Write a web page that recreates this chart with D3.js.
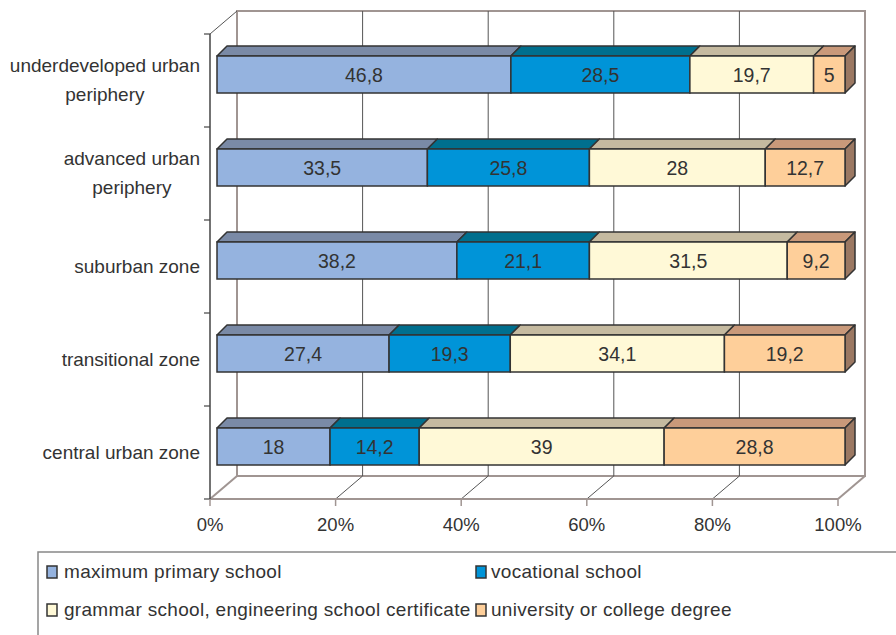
<!DOCTYPE html>
<html>
<head>
<meta charset="utf-8">
<script src="https://cdnjs.cloudflare.com/ajax/libs/d3/7.8.5/d3.min.js"></script>
<style>
  body { margin: 0; background: #fff; }
  text { font-family: "Liberation Sans", Arial, sans-serif; fill: #333; }
</style>
</head>
<body>
<script>
// Chart data
var categories = [
  ["underdeveloped urban", "periphery"],
  ["advanced urban", "periphery"],
  ["suburban zone"],
  ["transitional zone"],
  ["central urban zone"]
];
var seriesNames = [
  "maximum primary school",
  "vocational school",
  "grammar school, engineering school certificate",
  "university or college degree"
];
var primaryValues = [46.8, 33.5, 38.2, 27.4, 18];
var vocationalValues = [28.5, 25.8, 21.1, 19.3, 14.2];
var grammarValues = [19.7, 28, 31.5, 34.1, 39];
var universityValues = [5, 12.7, 9.2, 19.2, 28.8];
var tickValues = [0, 20, 40, 60, 80, 100];

// Colors: front face, top face, side face
var colors = [
  { front: "#95b3df", top: "#7a8aa6", side: "#5f7290" },
  { front: "#0094d8", top: "#006f8e", side: "#005a74" },
  { front: "#fff9d7", top: "#c5baa0", side: "#a89e86" },
  { front: "#fecf9a", top: "#c9997a", side: "#9b7862" }
];

var svgWidth = 896;
var svgHeight = 635;

// Front plane of the plot and the depth of the 3D box
var plot = { left: 210, top: 34, bottom: 499, width: 628 };
var depth = { dx: 27, dy: -23 };
// Bar front face offset from front plane, and bar depth
var barOff = { dx: 7, dy: -6 };
var barDepth = { dx: 10, dy: -10 };

var svg = d3.select("body")
  .append("svg")
  .attr("width", svgWidth)
  .attr("height", svgHeight);

var xScale = d3.scaleLinear()
  .domain([0, 100])
  .range([0, plot.width]);

var yBand = d3.scaleBand()
  .domain(d3.range(categories.length))
  .range([plot.top, plot.bottom]);

var barHeight = 37;

// Back wall
var backLeft = plot.left + depth.dx;
var backTop = plot.top + depth.dy;
var backBottom = plot.bottom + depth.dy;

svg.append("rect")
  .attr("x", backLeft)
  .attr("y", backTop)
  .attr("width", xScale(100))
  .attr("height", backBottom - backTop)
  .attr("fill", "#fff")
  .attr("stroke", "#a09592")
  .attr("stroke-width", 2);

// Vertical gridlines on back wall
svg.selectAll(".grid")
  .data(tickValues.slice(1, -1))
  .enter()
  .append("line")
  .attr("x1", d => backLeft + xScale(d))
  .attr("x2", d => backLeft + xScale(d))
  .attr("y1", backTop)
  .attr("y2", backBottom)
  .attr("stroke", "#555")
  .attr("stroke-width", 1);

// Floor gridlines
svg.selectAll(".floorgrid")
  .data(tickValues)
  .enter()
  .append("line")
  .attr("x1", d => plot.left + xScale(d))
  .attr("y1", plot.bottom)
  .attr("x2", d => backLeft + xScale(d))
  .attr("y2", backBottom)
  .attr("stroke", d => d === 0 || d === 100 ? "#a09592" : "#555")
  .attr("stroke-width", d => d === 0 || d === 100 ? 2 : 1);

// Floor front edge
svg.append("line")
  .attr("x1", plot.left)
  .attr("x2", plot.left + xScale(100))
  .attr("y1", plot.bottom)
  .attr("y2", plot.bottom)
  .attr("stroke", "#a09592")
  .attr("stroke-width", 2);

// Left wall top edge
svg.append("line")
  .attr("x1", plot.left)
  .attr("y1", plot.top)
  .attr("x2", backLeft)
  .attr("y2", backTop)
  .attr("stroke", "#555")
  .attr("stroke-width", 1);

// Left axis line and ticks
svg.append("line")
  .attr("x1", plot.left)
  .attr("x2", plot.left)
  .attr("y1", plot.top)
  .attr("y2", plot.bottom)
  .attr("stroke", "#444")
  .attr("stroke-width", 1.5);

svg.selectAll(".ytick")
  .data(d3.range(categories.length + 1))
  .enter()
  .append("line")
  .attr("x1", plot.left - 6)
  .attr("x2", plot.left)
  .attr("y1", d => plot.top + d * yBand.step())
  .attr("y2", d => plot.top + d * yBand.step())
  .attr("stroke", "#444")
  .attr("stroke-width", 1.2);

// Bottom axis ticks and labels
svg.selectAll(".xtick")
  .data(tickValues)
  .enter()
  .append("line")
  .attr("x1", d => plot.left + xScale(d))
  .attr("x2", d => plot.left + xScale(d))
  .attr("y1", plot.bottom)
  .attr("y2", plot.bottom + 7)
  .attr("stroke", "#a09592")
  .attr("stroke-width", 1.5);

svg.selectAll(".xlabel")
  .data(tickValues)
  .enter()
  .append("text")
  .attr("x", d => plot.left + xScale(d))
  .attr("y", plot.bottom + 32)
  .attr("text-anchor", "middle")
  .style("font-size", "18.5px")
  .text(d => d + "%");

// Category labels, centred as a block with right edge at 200
var labelRight = 200;
categories.forEach(function(lines, i) {
  var cy = yBand(i) + yBand.bandwidth() / 2;
  var g = svg.append("g");
  var texts = g.selectAll("text")
    .data(lines)
    .enter()
    .append("text")
    .attr("y", (d, j) => cy + (j - (lines.length - 1) / 2) * 29 + 6)
    .attr("text-anchor", "middle")
    .style("font-size", "19px")
    .text(d => d);
  var maxW = d3.max(texts.nodes(), n => n.getComputedTextLength());
  texts.attr("x", labelRight - maxW / 2);
});

// Build stacked segments
var allSeries = [primaryValues, vocationalValues, grammarValues, universityValues];
var segments = [];
categories.forEach(function(c, i) {
  var start = 0;
  allSeries.forEach(function(vals, s) {
    segments.push({ row: i, series: s, start: start, value: vals[i], last: s === allSeries.length - 1 });
    start += vals[i];
  });
});

var barGroup = svg.append("g");

segments.forEach(function(d) {
  var x0 = plot.left + barOff.dx + xScale(d.start);
  var x1 = plot.left + barOff.dx + xScale(d.start + d.value);
  var yc = yBand(d.row) + yBand.bandwidth() / 2 + barOff.dy;
  var y0 = yc - barHeight / 2;
  var y1 = yc + barHeight / 2;
  var col = colors[d.series];

  // top face
  barGroup.append("path")
    .attr("d", `M${x0},${y0}L${x0 + barDepth.dx},${y0 + barDepth.dy}L${x1 + barDepth.dx},${y0 + barDepth.dy}L${x1},${y0}Z`)
    .attr("fill", col.top)
    .attr("stroke", "#333")
    .attr("stroke-width", 1.5)
    .attr("stroke-linejoin", "round");

  // side face on last segment
  if (d.last) {
    barGroup.append("path")
      .attr("d", `M${x1},${y0}L${x1 + barDepth.dx},${y0 + barDepth.dy}L${x1 + barDepth.dx},${y1 + barDepth.dy}L${x1},${y1}Z`)
      .attr("fill", col.side)
      .attr("stroke", "#333")
      .attr("stroke-width", 1.5)
      .attr("stroke-linejoin", "round");
  }

  // front face
  barGroup.append("rect")
    .attr("x", x0)
    .attr("y", y0)
    .attr("width", x1 - x0)
    .attr("height", y1 - y0)
    .attr("fill", col.front)
    .attr("stroke", "#333")
    .attr("stroke-width", 1.5);

  barGroup.append("text")
    .attr("x", (x0 + x1) / 2)
    .attr("y", yc + 7)
    .attr("text-anchor", "middle")
    .style("font-size", "19.5px")
    .text(String(d.value).replace(".", ","));
});

// Legend
var legendGroup = svg.append("g");
legendGroup.append("path")
  .attr("d", "M38,640L38,552L900,552")
  .attr("fill", "none")
  .attr("stroke", "#888")
  .attr("stroke-width", 1.5);

var legendPos = [
  { x: 47, y: 572, tx: 64 },
  { x: 476, y: 572, tx: 491 },
  { x: 47, y: 610, tx: 64 },
  { x: 476, y: 610, tx: 491 }
];

seriesNames.forEach(function(name, i) {
  var p = legendPos[i];
  legendGroup.append("rect")
    .attr("x", p.x)
    .attr("y", p.y - 6)
    .attr("width", 10)
    .attr("height", 12)
    .attr("fill", colors[i].front)
    .attr("stroke", "#333")
    .attr("stroke-width", 1.5);
  legendGroup.append("text")
    .attr("x", p.tx)
    .attr("y", p.y + 6)
    .style("font-size", "19px")
    .style("letter-spacing", "0.3px")
    .text(name);
});
</script>
</body>
</html>
